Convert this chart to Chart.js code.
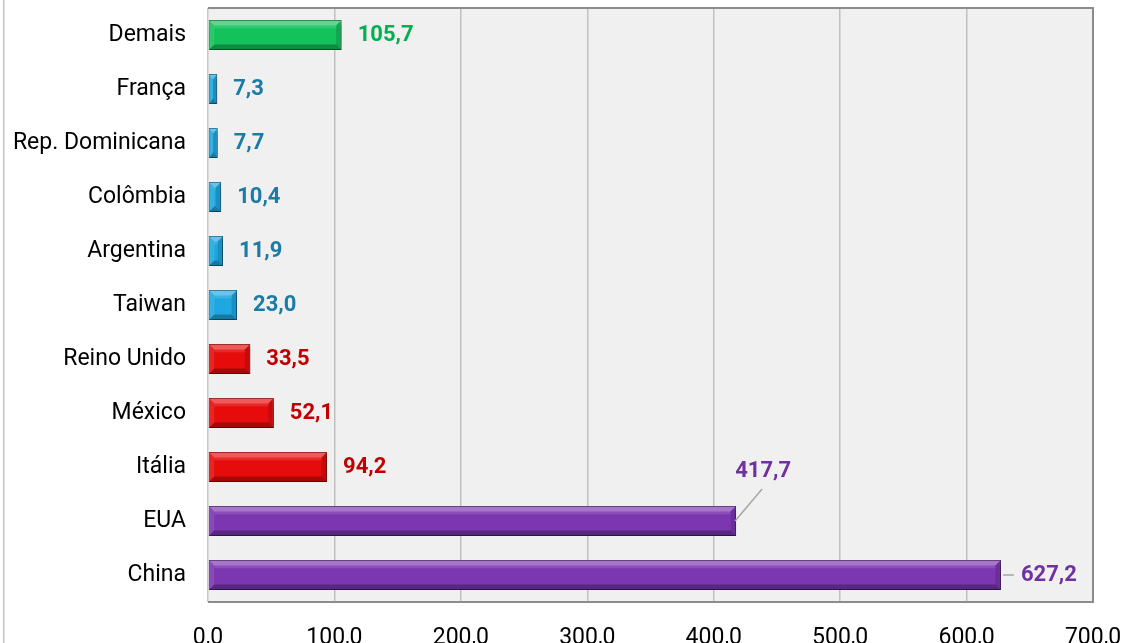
<!DOCTYPE html>
<html>
<head>
<meta charset="utf-8">
<script src="https://cdn.jsdelivr.net/npm/chart.js@4.4.0/dist/chart.umd.min.js"></script>
<style>
    html, body { margin: 0; padding: 0; background: #ffffff; }
    #wrap { position: relative; width: 1129px; height: 643px; }
</style>
</head>
<body>
<div id="wrap"><canvas id="paisesChart"></canvas></div>
<script>
    const categories = ["Demais", "França", "Rep. Dominicana", "Colômbia", "Argentina", "Taiwan",
                        "Reino Unido", "México", "Itália", "EUA", "China"];
    const values = [105.7, 7.3, 7.7, 10.4, 11.9, 23.0, 33.5, 52.1, 94.2, 417.7, 627.2];
    const groups = ["verde", "azul", "azul", "azul", "azul", "azul",
                    "vermelho", "vermelho", "vermelho", "roxo", "roxo"];
    const xTickValues = [0, 100, 200, 300, 400, 500, 600, 700];

    const barColors = { verde: '#14c25c', azul: '#1fa8e0', vermelho: '#e60c0c', roxo: '#7b36b0' };
    const edgeColors = { verde: '#0b7a36', azul: '#12698f', vermelho: '#8a0606', roxo: '#4a1f6b' };
    const labelColors = { verde: '#00b050', azul: '#1b7ba6', vermelho: '#c00000', roxo: '#7030a0' };

    const fmt = v => v.toFixed(1).replace('.', ',');
    const fontFam = "Roboto, 'Liberation Sans', sans-serif";

    const noPad = s => { s.paddingTop = 0; s.paddingBottom = 0; s.paddingLeft = 0; s.paddingRight = 0; };

    // fundo cinza da área do gráfico + moldura
    const plotFrame = {
        id: 'plotFrame',
        beforeDraw(chart) {
            const { ctx, chartArea: a } = chart;
            ctx.save();
            ctx.fillStyle = '#f0f0f0';
            ctx.fillRect(a.left, a.top, a.right - a.left, a.bottom - a.top);
            ctx.fillStyle = '#c4c4c4';
            ctx.fillRect(3, 0, 1.5, chart.height);
            ctx.restore();
        },
        afterDraw(chart) {
            const { ctx, chartArea: a } = chart;
            ctx.save();
            ctx.strokeStyle = '#8c8c8c';
            ctx.lineWidth = 2;
            ctx.beginPath();
            ctx.moveTo(a.left, a.top);
            ctx.lineTo(a.right, a.top);
            ctx.lineTo(a.right, a.bottom);
            ctx.lineTo(a.left, a.bottom);
            ctx.stroke();
            ctx.restore();
        }
    };

    // sombra + chanfro das barras
    const bevelBars = {
        id: 'bevelBars',
        beforeDatasetsDraw(chart) {
            const ctx = chart.ctx;
            ctx.save();
            ctx.shadowColor = 'rgba(0,0,0,0.3)';
            ctx.shadowOffsetX = 2;
            ctx.shadowOffsetY = 3;
            ctx.shadowBlur = 4;
        },
        afterDatasetsDraw(chart) {
            const ctx = chart.ctx;
            ctx.restore();
            const meta = chart.getDatasetMeta(0);
            const b = 5;
            meta.data.forEach(el => {
                const p = el.getProps(['x', 'y', 'base', 'height'], true);
                const left = Math.min(p.base, p.x) + 0.5, right = Math.max(p.base, p.x) - 0.5;
                const top = p.y - p.height / 2 + 0.5, bottom = p.y + p.height / 2 - 0.5;
                const bb = Math.min(b, (right - left) / 2);
                ctx.save();
                // face superior
                ctx.fillStyle = 'rgba(255,255,255,0.32)';
                ctx.beginPath();
                ctx.moveTo(left, top); ctx.lineTo(right, top);
                ctx.lineTo(right - bb, top + b); ctx.lineTo(left + bb, top + b);
                ctx.fill();
                // face inferior
                ctx.fillStyle = 'rgba(0,0,0,0.28)';
                ctx.beginPath();
                ctx.moveTo(left, bottom); ctx.lineTo(right, bottom);
                ctx.lineTo(right - bb, bottom - b); ctx.lineTo(left + bb, bottom - b);
                ctx.fill();
                // face direita
                ctx.fillStyle = 'rgba(0,0,0,0.14)';
                ctx.beginPath();
                ctx.moveTo(right, top); ctx.lineTo(right, bottom);
                ctx.lineTo(right - bb, bottom - b); ctx.lineTo(right - bb, top + b);
                ctx.fill();
                // face esquerda
                ctx.fillStyle = 'rgba(255,255,255,0.1)';
                ctx.beginPath();
                ctx.moveTo(left, top); ctx.lineTo(left, bottom);
                ctx.lineTo(left + bb, bottom - b); ctx.lineTo(left + bb, top + b);
                ctx.fill();
                ctx.fillStyle = 'rgba(255,255,255,0.12)';
                ctx.fillRect(left + bb, top + b, right - left - 2 * bb, 3);
                ctx.restore();
            });
        }
    };

    // rótulos de dados
    const valueLabels = {
        id: 'valueLabels',
        afterDatasetsDraw(chart) {
            const { ctx } = chart;
            const meta = chart.getDatasetMeta(0);
            ctx.save();
            ctx.font = "bold 22px " + fontFam;
            ctx.textBaseline = 'middle';
            meta.data.forEach((el, i) => {
                const p = el.getProps(['x', 'y'], true);
                const txt = fmt(values[i]);
                ctx.fillStyle = labelColors[groups[i]];
                ctx.strokeStyle = '#a6a6a6';
                ctx.lineWidth = 1.5;
                if (categories[i] === 'EUA') {
                    ctx.beginPath();
                    ctx.moveTo(p.x - 1, p.y);
                    ctx.lineTo(p.x + 26, p.y - 32);
                    ctx.stroke();
                    ctx.textAlign = 'center';
                    ctx.fillText(txt, p.x + 27, p.y - 50);
                } else if (categories[i] === 'China') {
                    ctx.beginPath();
                    ctx.moveTo(p.x + 2, p.y);
                    ctx.lineTo(p.x + 13, p.y);
                    ctx.stroke();
                    ctx.textAlign = 'left';
                    ctx.fillText(txt, p.x + 20, p.y);
                } else {
                    ctx.textAlign = 'left';
                    ctx.fillText(txt, p.x + 16, p.y);
                }
            });
            ctx.restore();
        }
    };

    new Chart(document.getElementById('paisesChart'), {
        type: 'bar',
        data: {
            labels: categories,
            datasets: [{
                data: values,
                backgroundColor: groups.map(g => barColors[g]),
                borderColor: groups.map(g => edgeColors[g]),
                borderWidth: 1,
                borderSkipped: false,
                barPercentage: 0.56,
                categoryPercentage: 1
            }]
        },
        options: {
            indexAxis: 'y',
            responsive: true,
            maintainAspectRatio: false,
            animation: false,
            layout: { autoPadding: false, padding: { left: 0, top: 8, right: 36, bottom: 0 } },
            plugins: {
                legend: { display: false },
                tooltip: { enabled: false }
            },
            scales: {
                x: {
                    min: 0,
                    max: 700,
                    afterBuildTicks: s => { s.ticks = xTickValues.map(v => ({ value: v })); },
                    afterFit: s => { s.height = 41; noPad(s); },
                    grid: {
                        color: c => c.index === 0 ? '#c8c8c8' : '#c0c0c0',
                        lineWidth: 1.5,
                        drawTicks: false
                    },
                    border: { display: false },
                    ticks: {
                        padding: 22,
                        maxRotation: 0,
                        color: '#000000',
                        font: { family: fontFam, size: 23 },
                        callback: v => fmt(v)
                    }
                },
                y: {
                    afterFit: s => { s.width = 208; noPad(s); },
                    grid: { display: false, drawTicks: false },
                    border: { display: false },
                    ticks: {
                        padding: 22,
                        color: '#000000',
                        font: { family: fontFam, size: 23 }
                    }
                }
            }
        },
        plugins: [plotFrame, bevelBars, valueLabels]
    });
</script>
</body>
</html>
